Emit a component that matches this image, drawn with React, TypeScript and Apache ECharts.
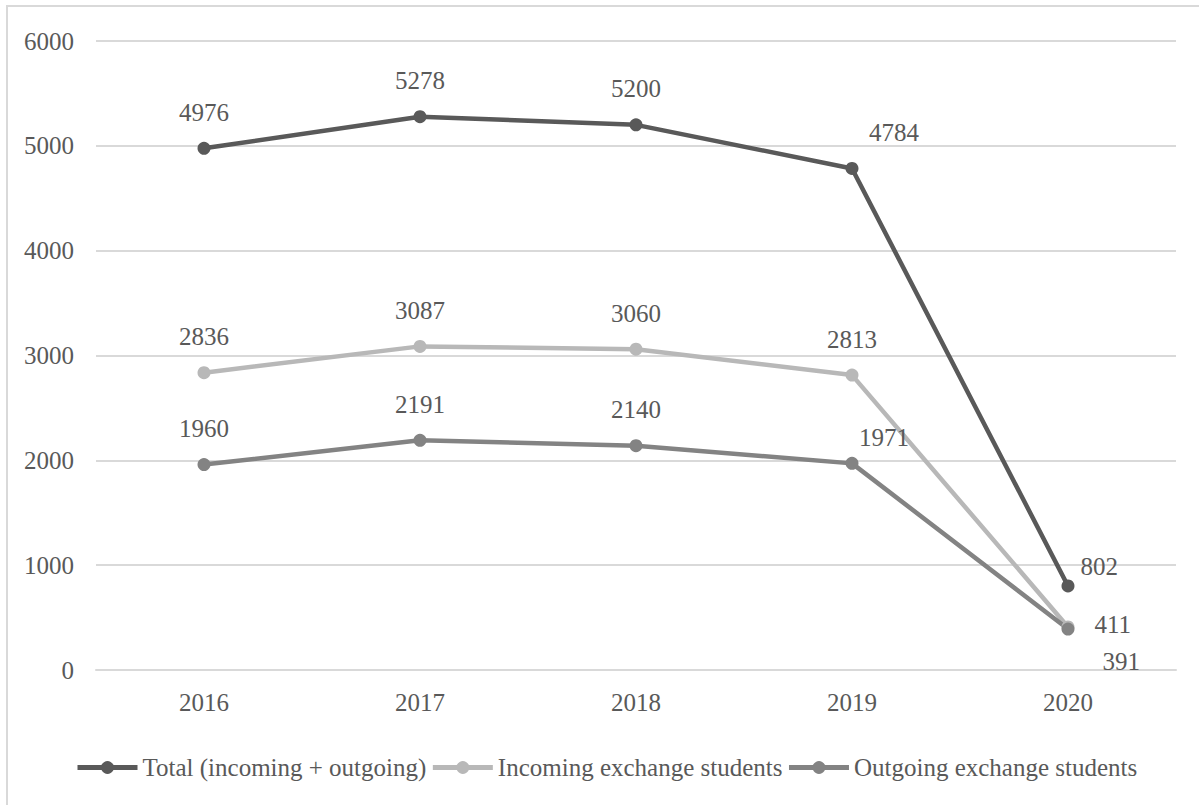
import React, { useEffect, useRef } from "react";
import * as echarts from "echarts";

const years = ["2016", "2017", "2018", "2019", "2020"];
const totalValues = [4976, 5278, 5200, 4784, 802];
const incomingValues = [2836, 3087, 3060, 2813, 411];
const outgoingValues = [1960, 2191, 2140, 1971, 391];
const seriesNames = [
  "Total (incoming + outgoing)",
  "Incoming exchange students",
  "Outgoing exchange students",
];

const FONT = "'Liberation Serif', 'Times New Roman', serif";
const TEXT = "#595959";

// per-point label placement tweaks (last points crowd together near 2020)
const totalLabel = [
  {},
  {},
  {},
  { offset: [42, 0] },
  { position: "right", distance: 6, offset: [0, -19] },
];
const incomingLabel = [{}, {}, {}, {}, { position: "right", distance: 20, offset: [0, -2] }];
const outgoingLabel = [
  {},
  {},
  {},
  { offset: [32, 10] },
  { position: "right", distance: 28, offset: [0, 32] },
];

function buildData(values: number[], labels: any[]) {
  return values.map((v, i) => ({ value: v, label: labels[i] }));
}

export default function App() {
  const ref = useRef<HTMLDivElement>(null);

  useEffect(() => {
    if (!ref.current) return;
    const chart = echarts.init(ref.current, undefined, { renderer: "svg" });
    const mkSeries = (name: string, color: string, values: number[], labels: any[]) => ({
      name,
      type: "line",
      data: buildData(values, labels),
      symbol: "circle",
      symbolSize: 13,
      lineStyle: { color, width: 4.5 },
      itemStyle: { color },
      label: {
        show: true,
        position: "top",
        distance: 17,
        color: TEXT,
        fontFamily: FONT,
        fontSize: 25,
      },
    });
    chart.setOption({
      animation: false,
      backgroundColor: "#ffffff",
      graphic: [
        {
          type: "rect",
          shape: { x: 7, y: 6, width: 1300, height: 900 },
          style: { fill: "none", stroke: "#d9d9d9", lineWidth: 2 },
          silent: true,
        },
      ],
      grid: { left: 96, right: 23, top: 41, bottom: 135 },
      legend: {
        left: 70,
        top: 750,
        itemWidth: 60,
        itemHeight: 16,
        itemGap: 4,
        lineStyle: { width: 5 },
        textStyle: { color: TEXT, fontFamily: FONT, fontSize: 25 },
        data: seriesNames,
      },
      xAxis: {
        type: "category",
        data: years,
        boundaryGap: true,
        axisLine: { lineStyle: { color: "#d9d9d9", width: 2 } },
        axisTick: { show: false },
        axisLabel: { color: TEXT, fontFamily: FONT, fontSize: 25, margin: 20 },
      },
      yAxis: {
        type: "value",
        min: 0,
        max: 6000,
        interval: 1000,
        axisLine: { show: false },
        axisTick: { show: false },
        splitLine: { lineStyle: { color: "#d9d9d9", width: 2 } },
        axisLabel: {
          color: TEXT,
          fontFamily: FONT,
          fontSize: 25,
          margin: 22,
          formatter: (v: number) => String(v),
        },
      },
      series: [
        mkSeries(seriesNames[0], "#595959", totalValues, totalLabel),
        mkSeries(seriesNames[1], "#b8b8b8", incomingValues, incomingLabel),
        mkSeries(seriesNames[2], "#838383", outgoingValues, outgoingLabel),
      ],
    });
    return () => chart.dispose();
  }, []);

  return (
    <div
      ref={ref}
      style={{ position: "fixed", left: 0, top: 0, width: 1199, height: 805 }}
    />
  );
}
